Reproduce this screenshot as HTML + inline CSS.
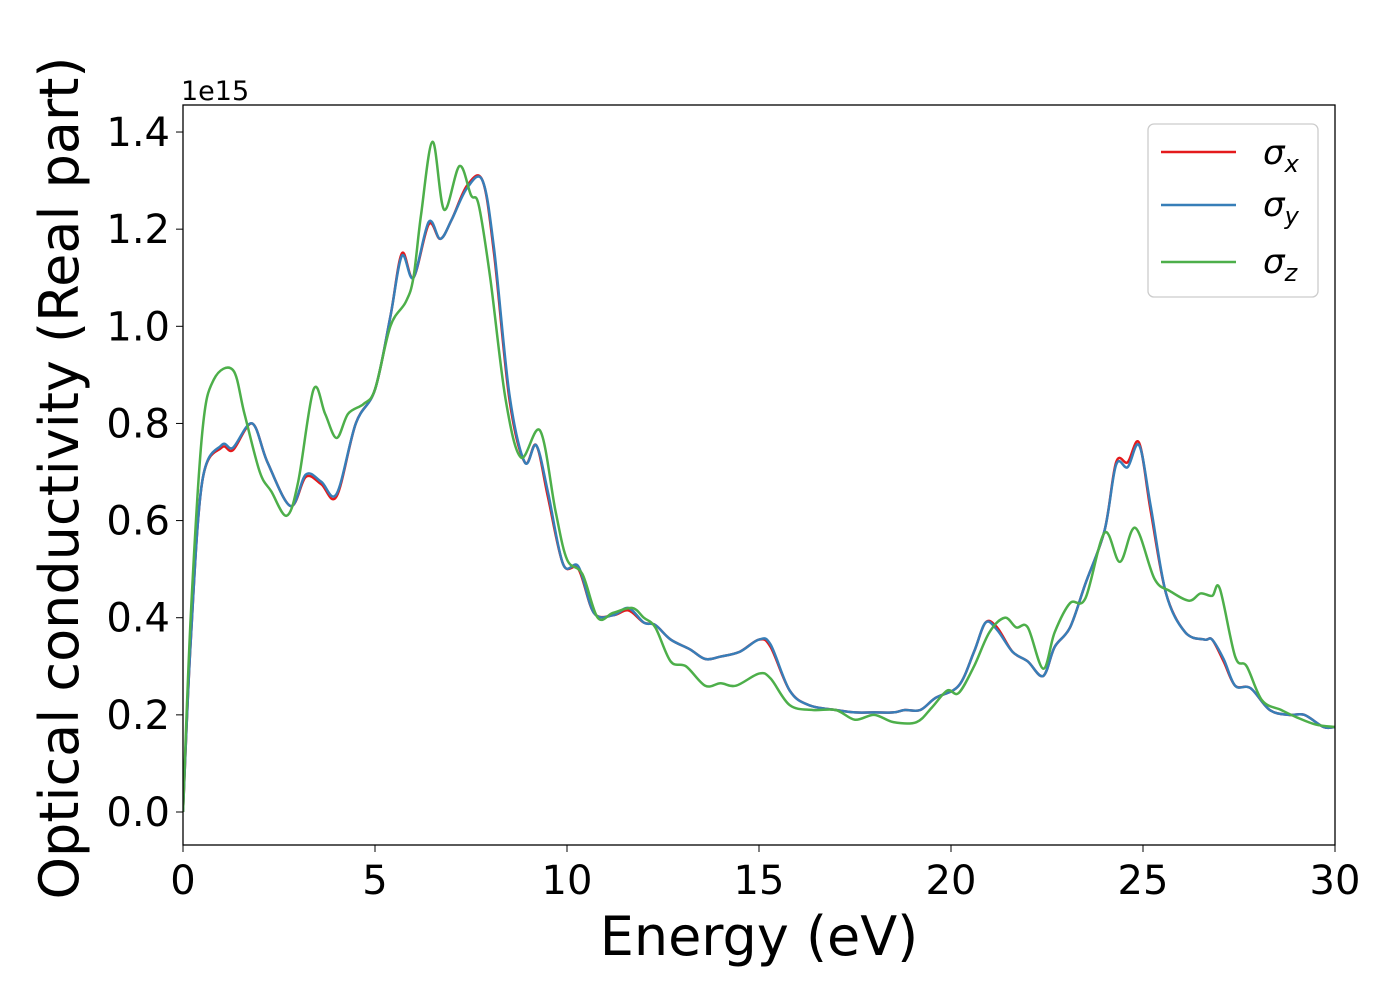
<!DOCTYPE html>
<html><head><meta charset="utf-8"><style>
body{margin:0;background:#fff;}
svg text{font-family:"DejaVu Sans","Liberation Sans",sans-serif;fill:#000;}
</style></head><body>
<svg id="chart" width="1400" height="1000" xmlns="http://www.w3.org/2000/svg">
<g id="ticks"></g>
<g id="series" clip-path="url(#clip)"></g>
<defs><clipPath id="clip"><rect x="183" y="105" width="1152" height="740"/></clipPath></defs>
<rect x="183" y="105" width="1152" height="740" fill="none" stroke="#000" stroke-width="1.3"/>
<text x="181" y="100" font-size="27">1e15</text>
<text x="759" y="955" font-size="54" text-anchor="middle">Energy (eV)</text>
<text transform="translate(78,478) rotate(-90)" font-size="54" text-anchor="middle">Optical conductivity (Real part)</text>
<g>
<rect x="1148" y="124" width="170" height="173" rx="6" fill="#fff" stroke="#ccc" stroke-width="1.3"/>
<line x1="1161" y1="152" x2="1236" y2="152" stroke="#e41a1c" stroke-width="2.5"/>
<line x1="1161" y1="205" x2="1236" y2="205" stroke="#377eb8" stroke-width="2.5"/>
<line x1="1161" y1="262" x2="1236" y2="262" stroke="#4daf4a" stroke-width="2.5"/>
<text x="1263" y="164" font-size="34" font-style="italic">σ<tspan font-size="24" dy="8">x</tspan></text>
<text x="1263" y="216" font-size="34" font-style="italic">σ<tspan font-size="24" dy="8">y</tspan></text>
<text x="1263" y="273" font-size="34" font-style="italic">σ<tspan font-size="24" dy="8">z</tspan></text>
</g>
</svg>
<script>
const xTicks=[0,5,10,15,20,25,30];
const yTicks=[0.0,0.2,0.4,0.6,0.8,1.0,1.2,1.4];
const energyX=[0,0.2,0.5,1.0,1.3,1.8,2.2,2.8,3.2,3.6,4.0,4.5,5.0,5.4,5.7,6.0,6.4,6.7,7.0,7.4,7.8,8.1,8.5,8.9,9.2,9.5,9.9,10.3,10.7,11.2,11.6,12.0,12.3,12.7,13.2,13.6,14.0,14.5,15.0,15.3,15.8,16.3,17.0,17.5,18.0,18.5,18.8,19.2,19.6,20.2,20.6,20.9,21.2,21.6,22.0,22.4,22.7,23.1,23.5,24.0,24.3,24.6,24.9,25.2,25.6,26.1,26.6,26.8,27.1,27.4,27.8,28.3,28.8,29.2,29.7,30];
const sigmaX=[0,0.35,0.68,0.75,0.745,0.80,0.72,0.63,0.69,0.675,0.65,0.80,0.87,1.02,1.15,1.10,1.21,1.18,1.22,1.29,1.30,1.15,0.85,0.72,0.755,0.65,0.51,0.50,0.41,0.405,0.415,0.39,0.385,0.355,0.335,0.315,0.32,0.33,0.355,0.34,0.25,0.22,0.21,0.205,0.205,0.205,0.21,0.21,0.235,0.26,0.33,0.39,0.38,0.33,0.31,0.28,0.34,0.38,0.47,0.58,0.72,0.72,0.76,0.62,0.45,0.37,0.355,0.355,0.31,0.26,0.255,0.21,0.20,0.20,0.175,0.175];
const sigmaY=[0,0.35,0.68,0.755,0.75,0.80,0.72,0.63,0.695,0.68,0.655,0.80,0.87,1.02,1.145,1.10,1.215,1.18,1.22,1.285,1.30,1.16,0.86,0.72,0.755,0.66,0.51,0.505,0.41,0.405,0.42,0.39,0.385,0.355,0.335,0.315,0.32,0.33,0.355,0.345,0.25,0.22,0.21,0.205,0.205,0.205,0.21,0.21,0.235,0.26,0.33,0.39,0.375,0.33,0.31,0.28,0.34,0.38,0.47,0.58,0.715,0.71,0.755,0.63,0.45,0.37,0.355,0.355,0.315,0.26,0.255,0.21,0.20,0.20,0.175,0.175];
const energyZ=[0,0.2,0.5,0.8,1.3,1.6,2.0,2.3,2.7,3.0,3.4,3.7,4.0,4.3,4.7,5.0,5.4,5.8,6.0,6.2,6.5,6.8,7.2,7.5,7.7,8.0,8.4,8.8,9.3,9.7,10.0,10.4,10.8,11.2,11.7,12.0,12.3,12.7,13.1,13.6,14.0,14.4,15.0,15.3,15.8,16.4,17.0,17.5,18.0,18.5,19.1,19.5,19.9,20.2,20.6,21.0,21.4,21.7,22.0,22.4,22.7,23.1,23.5,24.0,24.4,24.8,25.3,25.7,26.2,26.5,26.8,27.0,27.4,27.7,28.1,28.6,29.0,29.5,30];
const sigmaZ=[0,0.4,0.78,0.89,0.91,0.82,0.70,0.66,0.61,0.68,0.87,0.82,0.77,0.82,0.84,0.87,1.00,1.05,1.10,1.23,1.38,1.24,1.33,1.27,1.25,1.10,0.85,0.73,0.785,0.62,0.52,0.49,0.40,0.41,0.42,0.40,0.38,0.31,0.30,0.26,0.265,0.26,0.285,0.275,0.22,0.21,0.21,0.19,0.20,0.185,0.185,0.215,0.25,0.245,0.30,0.37,0.40,0.38,0.38,0.295,0.37,0.43,0.44,0.575,0.515,0.585,0.48,0.455,0.435,0.45,0.445,0.46,0.32,0.30,0.23,0.21,0.195,0.18,0.175];
const X0=183,X1=1335,Y0=812,PY=485.7;
function sx(v){return X0+(v-0)/30*(X1-X0);}
function sy(v){return Y0-v*PY;}
const NS="http://www.w3.org/2000/svg";
const tg=document.getElementById('ticks');
xTicks.forEach(t=>{
 const l=document.createElementNS(NS,'line');
 
 
 l.setAttribute('x1',sx(t));l.setAttribute('x2',sx(t));l.setAttribute('y1',845);l.setAttribute('y2',852);l.setAttribute('stroke','#000');tg.appendChild(l);
 const tx=document.createElementNS(NS,'text');
 
 
 tx.setAttribute('x',sx(t));tx.setAttribute('y',894);tx.setAttribute('font-size','40');tx.setAttribute('text-anchor','middle');tx.textContent=t;tg.appendChild(tx);
});
yTicks.forEach(t=>{
 const l=document.createElementNS(NS,'line');
 
 
 l.setAttribute('x1',176);l.setAttribute('x2',183);l.setAttribute('y1',sy(t));l.setAttribute('y2',sy(t));l.setAttribute('stroke','#000');tg.appendChild(l);
 const tx=document.createElementNS(NS,'text');
 
 
 tx.setAttribute('x',170);tx.setAttribute('y',sy(t)+14);tx.setAttribute('font-size','40');tx.setAttribute('text-anchor','end');tx.textContent=t.toFixed(1);tg.appendChild(tx);
});
function pathFor(xs,ys){
 const p=xs.map((x,i)=>[sx(x),sy(ys[i])]);
 let d='M'+p[0][0]+','+p[0][1];
 for(let i=0;i<p.length-1;i++){
  const a=p[Math.max(0,i-1)],b=p[i],c=p[i+1],e=p[Math.min(p.length-1,i+2)];
  const c1=[b[0]+(c[0]-a[0])/6,b[1]+(c[1]-a[1])/6],c2=[c[0]-(e[0]-b[0])/6,c[1]-(e[1]-b[1])/6];
  d+=' C'+c1.join(',')+' '+c2.join(',')+' '+c.join(',');
 }
 return d;
}
const sg=document.getElementById('series');
[[energyX,sigmaX,'#e41a1c','series-sigma-x'],[energyX,sigmaY,'#377eb8','series-sigma-y'],[energyZ,sigmaZ,'#4daf4a','series-sigma-z']].forEach(s=>{
 const p=document.createElementNS(NS,'path');
 
 
 p.setAttribute('d',pathFor(s[0],s[1]));p.setAttribute('fill','none');p.setAttribute('stroke',s[2]);p.setAttribute('stroke-width','2.5');sg.appendChild(p);
});
</script>
</body></html>
